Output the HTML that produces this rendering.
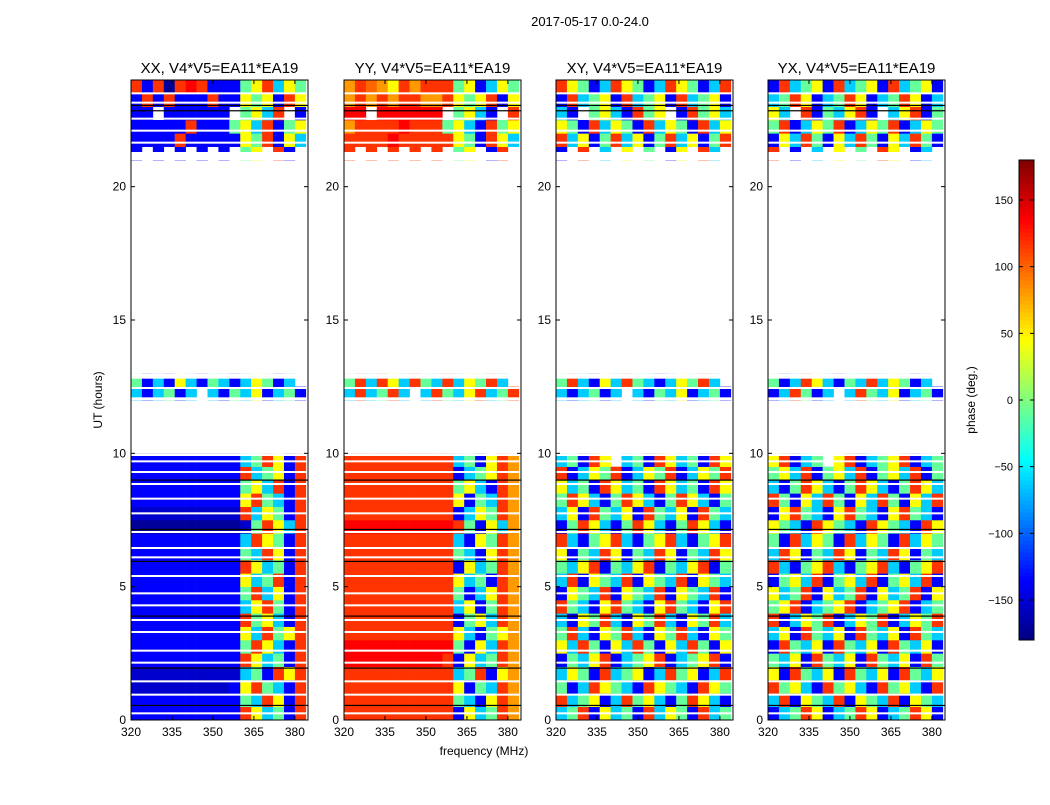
<!DOCTYPE html>
<html><head><meta charset="utf-8">
<style>
html,body{margin:0;padding:0;background:#fff;}
body{width:1050px;height:800px;overflow:hidden;font-family:"Liberation Sans","DejaVu Sans",sans-serif;}
svg text{font-family:"Liberation Sans","DejaVu Sans",sans-serif;}
</style></head>
<body>
<svg id="fig" width="1050" height="800" viewBox="0 0 1050 800" xmlns="http://www.w3.org/2000/svg">
<text x="590" y="26" font-size="13" text-anchor="middle">2017-05-17 0.0-24.0</text>
<text x="484" y="755" font-size="12" text-anchor="middle">frequency (MHz)</text>
<text transform="translate(102,400) rotate(-90)" font-size="12" text-anchor="middle">UT (hours)</text>
<text transform="translate(975,400) rotate(-90)" font-size="12" text-anchor="middle">phase (deg.)</text>
<g id="panels"></g>
<g id="cbar"></g>
</svg>
<script>
// ---- data ----
const panelTitles = ["XX, V4*V5=EA11*EA19","YY, V4*V5=EA11*EA19","XY, V4*V5=EA11*EA19","YX, V4*V5=EA11*EA19"];
const freqStart = 320, freqStep = 4, nFreq = 16; // MHz channel bins
const timeStep = 0.5; // hours per row
const xTicks = [320,335,350,365,380];
const yTicks = [0,5,10,15,20];
const cbarTicks = [150,100,50,0,-50,-100,-150];
// phase code: letter index i -> phase -180 + 18*(i+0.5); '.' = flagged
const EMPTY = "................";
const xxRows = ["ccccccccccqmgjcq","ccccccccccjgqmcq","bbbbbbbbbcmqjgcq","bbbbbbbbbbgjcqmq","ccccccccccqmgjcq","ccccccccccjqmgcq","ccccccccccmgqjmq","ccccccccccqjmgcq","ccccccccccgmqjcq","ccccccccccjqgmcq","ccccccccccmgjqcq","ccccccccccqmgjcq","ccccccccccjgqmcq","ccccccccccgqmjcq","aaaaaaaaaabjqmgq","bbbbbbbbbbqgmjcq","ccccccccccmqjgcq","ccccccccccjmgqcq","ccccccccccqgjmcq","ccccccccccgjqmcq",
EMPTY,EMPTY,EMPTY,EMPTY,"gcgjcg.gcjgmcgjc","jcgcmgcjgcgmjcg.",EMPTY,EMPTY,EMPTY,EMPTY,EMPTY,EMPTY,EMPTY,EMPTY,EMPTY,EMPTY,EMPTY,EMPTY,EMPTY,EMPTY,EMPTY,EMPTY,
"c.c.c.c.c.jm.qc.","ccccqcccccmjqcmg","cccccqcccjmgqcjm","cc.cccccc.jmgq.c","cqcqcccqccmjmcqm","qcqaqrqcccjmqgmj"];
const yyRows = ["qqqqqqqqqqcmgjqo","qqqqqqqqqqjgcmqo","qqqqqqqqqqmcjgqo","qqqqqqqqqqgjqcmo","rrrrrrrrrqcmgjqo","rrrrrrrrrrjcmgqo","qqqqqqqqqqmgcjmo","qqqqqqqqqqcjmgqo","qqqqqqqqqqgmcjqo","qqqqqqqqqqjcgmqo","qqqqqqqqqqmgjcqo","qqqqqqqqqqcmgjqo","qqqqqqqqqqjgcmqo","qqqqqqqqqqgcmjqo","rrrrrrrrrrqjcmgo","qqqqqqqqqqcgmjqo","qqqqqqqqqqmcjgqo","qqqqqqqqqqjmgcqo","qqqqqqqqqqcgjmqo","qqqqqqqqqqgjcmqo",
EMPTY,EMPTY,EMPTY,EMPTY,"gqgjqg.gqjgmqgjq","jqgqmgqjgqgmjqg.",EMPTY,EMPTY,EMPTY,EMPTY,EMPTY,EMPTY,EMPTY,EMPTY,EMPTY,EMPTY,EMPTY,EMPTY,EMPTY,EMPTY,EMPTY,EMPTY,
"q.q.q.q.q.jm.cq.","qqqqrqqqqqmjcqmg","oqqqqrqqqjmgcqjm","rr.rrrrrr.jmgc.q","oqoqoqqooqmjmqcm","oqpomqoqqqjmcgmj"];
const xyRows = ["gjqcmgjcqgmjcqgj","qgjmcgqjmgcjqmgc","jcgqmjgcqmjgcqmj","gmjcqgjmcgqjmcgq","cjgmqcgjmqcgjmqc","mgqjcmgqjcmgqjcm","jqgcmjqgcmjqgcmj","gcmjqgcmjqgcmjqg","qjgcmqjgcmqjgcmq","cmjgqcmjgqcmjgqc","gqcmjgqcmjgqcmjg","jgmqcjgmqcjgmqcj","mcjgqmcjgqmcjgqm","qgcjmqgcjmqgcjmq","cjqmgcjqmgcjqmgc","gmcqjgmcqjgmcqjg","jqmgcjqmgcjqmgcj","mgjcqmgjcqmgjcqm","qcgmjqcgmjqcgmjq","gjcqm.gjcqmgjcqm",
EMPTY,EMPTY,EMPTY,EMPTY,"gcgjcg.gcjgmcgjc","jqgcmgqjgcgmjqg.",EMPTY,EMPTY,EMPTY,EMPTY,EMPTY,EMPTY,EMPTY,EMPTY,EMPTY,EMPTY,EMPTY,EMPTY,EMPTY,EMPTY,EMPTY,EMPTY,
"c.q.g.m.j.cm.qg.","qgmcjqgmcjqgmcjq","mjcqgmjcqgmjcqgm","gc.jmgcqjm.cqjmg","cqgjmcqgjmcqgjmc","qmjcgqmjcgqmjcgq"];
const yxRows = ["cgjqmcgjqmcgjqmc","gqcmjgqcmjgqcmjg","qjmgcqjmgcqjmgcq","mcqjgmcqjgmcqjgm","jgmcqjgmcqjgmcqj","cqjgmcqjgmcqjgmc","gmcqjgmcqjgmcqjg","qcgmjqcgmjqcgmjq","jmqcgjmqcgjmqcgj","mgjqcmgjqcmgjqcm","cjmgqcjmgqcjmgqc","qgcjmqgcjmqgcjmq","gqmcjgqmcjgqmcjg","jcqgmjcqgmjcqgmj","mjgcqmjgcqmjgcqm","cmqjgcmqjgcmqjgc","qjcmgqjcmgqjcmgq","gcjqmgcjqmgcjqmg","jmgqcjmgqcjmgqcj","mqcgj.mqcgjmqcgj",
EMPTY,EMPTY,EMPTY,EMPTY,"cgqjcg.gqjgmcgjc","jcgqmgcjgqgmjcg.",EMPTY,EMPTY,EMPTY,EMPTY,EMPTY,EMPTY,EMPTY,EMPTY,EMPTY,EMPTY,EMPTY,EMPTY,EMPTY,EMPTY,EMPTY,EMPTY,
"q.c.g.m.j.qm.cg.","cmgqjcmgqjcmgqjc","jqcgmjqcgmjqcgmj","mg.qcjgmqc.gmqcj","gjqmcgjqmcgjqmcg","cqgjmcqgjmcqgjmc"];
const panelRows = [xxRows, yyRows, xyRows, yxRows];
// flagged time ranges [start,end] in hours (blank)
const flaggedStart = [9.9, 12.0, 12.8, 21.0];
const flaggedEnd   = [10.0, 12.1, 13.0, 21.3];
// flagged times (hours) drawn as white gaps and black divider lines
const whiteGaps = [0.25,0.95,1.45,2.15,2.6,3.3,3.75,4.3,4.75,5.4,6.1,6.45,7.05,7.75,8.3,8.85,9.3,9.7,12.45,21.65,22.1,22.55,23.15,23.5];
const blackLines = [0.55,1.95,3.9,5.95,7.15,9.0,22.85,23.05];
// ---- layout ----
const panelX = [131,344,556,768], panelW = 177;
const plotTop = 80, plotBottom = 720;
const tMax = 24, fMin = 320, fMax = 384.8;
function xScale(p,f){return panelX[p] + (f - fMin)/(fMax - fMin)*panelW;}
function yScale(t){return plotBottom - t/tMax*(plotBottom-plotTop);}
function jet(v){
  const t = Math.max(0,Math.min(1,(v+180)/360));
  const c = x=>Math.round(255*Math.max(0,Math.min(1,x)));
  return `rgb(${c(1.5-Math.abs(4*t-3))},${c(1.5-Math.abs(4*t-2))},${c(1.5-Math.abs(4*t-1))})`;
}
function codeToPhase(ch){return -180 + 18*((ch.charCodeAt(0)-97)+0.5);}
const NS="http://www.w3.org/2000/svg";
function mk(tag,attrs,parent){const e=document.createElementNS(NS,tag);for(const k in attrs)e.setAttribute(k,attrs[k]);parent.appendChild(e);return e;}
const panels=document.getElementById('panels');
for(let p=0;p<4;p++){
  const g=mk('g',{},panels);
  
  
  const rows=panelRows[p];
  for(let r=0;r<rows.length;r++){
    for(let c=0;c<nFreq;c++){
      const ch=rows[r][c]; if(!ch||ch==='.')continue;
      const f0=freqStart+c*freqStep, t0=r*timeStep;
      const x0=xScale(p,f0), x1=xScale(p,Math.min(f0+freqStep,fMax));
      const y0=yScale(t0+timeStep), y1=yScale(t0);
      const rc=mk('rect',{x:x0,y:y0,width:x1-x0+0.3,height:y1-y0+0.3,fill:jet(codeToPhase(ch))},g);
      
      
    }
  }
  for(let i=0;i<flaggedStart.length;i++){
    const fr=mk('rect',{x:panelX[p],y:yScale(flaggedEnd[i]),width:panelW,height:yScale(flaggedStart[i])-yScale(flaggedEnd[i]),fill:'#fff'},g);
    
    
  }
  for(const t of whiteGaps){
    const l=mk('rect',{x:panelX[p],y:yScale(t)-1,width:panelW,height:2,fill:'#fff'},g);
    
    
  }
  for(const t of blackLines){
    const l=mk('rect',{x:panelX[p],y:yScale(t)-0.5,width:panelW,height:1.2,fill:'#000'},g);
    
    
  }
  const fr=mk('rect',{x:panelX[p],y:plotTop,width:panelW,height:plotBottom-plotTop,fill:'none',stroke:'#000','stroke-width':1},g);
  
  
  const tt=mk('text',{x:panelX[p]+panelW/2,y:73,'font-size':15,'text-anchor':'middle'},g);
  tt.textContent=panelTitles[p];
  
  
  for(const f of xTicks){
    const x=xScale(p,f);
    mk('line',{x1:x,x2:x,y1:plotBottom,y2:plotBottom-4,stroke:'#000'},g);
    mk('line',{x1:x,x2:x,y1:plotTop,y2:plotTop+4,stroke:'#000'},g);
    const tl=mk('text',{x:x,y:plotBottom+16,'font-size':12,'text-anchor':'middle'},g);
    tl.textContent=f;
    
    
  }
  for(const t of yTicks){
    const y=yScale(t);
    mk('line',{x1:panelX[p],x2:panelX[p]+4,y1:y,y2:y,stroke:'#000'},g);
    mk('line',{x1:panelX[p]+panelW,x2:panelX[p]+panelW-4,y1:y,y2:y,stroke:'#000'},g);
    const tl=mk('text',{x:panelX[p]-5,y:y+4,'font-size':12,'text-anchor':'end'},g);
    tl.textContent=t;
    
    
  }
}
// colorbar
const cb=document.getElementById('cbar');


const cbX=1019, cbW=15, cbTop=160, cbBot=640;
function cbY(v){return cbBot-(v+180)/360*(cbBot-cbTop);}
for(let i=0;i<120;i++){
  const v0=-180+i*3;
  mk('rect',{x:cbX,y:cbY(v0+3),width:cbW,height:(cbBot-cbTop)/120+0.5,fill:jet(v0+1.5)},cb);
}
mk('rect',{x:cbX,y:cbTop,width:cbW,height:cbBot-cbTop,fill:'none',stroke:'#000'},cb);
for(const v of cbarTicks){
  const y=cbY(v);
  mk('line',{x1:cbX+cbW,x2:cbX+cbW-4,y1:y,y2:y,stroke:'#000'},cb);
  mk('line',{x1:cbX,x2:cbX+4,y1:y,y2:y,stroke:'#000'},cb);
  const tl=mk('text',{x:cbX-6,y:y+4,'font-size':11,'text-anchor':'end'},cb);
  tl.textContent=(v<0?'\u2212'+(-v):v);
  
  
}
</script>
</body></html>
